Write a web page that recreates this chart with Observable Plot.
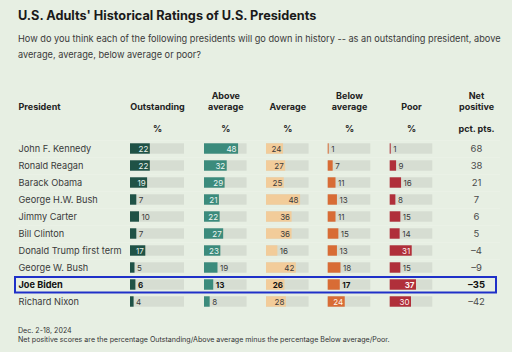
<!DOCTYPE html>
<html><head><meta charset="utf-8">
<script src="https://cdn.jsdelivr.net/npm/d3@7"></script>
<script src="https://cdn.jsdelivr.net/npm/@observablehq/plot@0.6"></script>
<style>
html,body{margin:0;padding:0;background:#e7efe3;}
body{width:512px;height:352px;position:relative;overflow:hidden;font-family:Inter,"Liberation Sans",sans-serif;color:#222;}
#title{position:absolute;left:18px;top:7.7px;font-size:12.7px;font-weight:700;line-height:16px;white-space:nowrap;color:#1a1a1a;}
#sub{position:absolute;left:18px;top:31.4px;font-size:9.2px;line-height:15.3px;color:#3a3a3a;white-space:nowrap;}
#chart{position:absolute;left:0;top:80px;}
#cap{position:absolute;left:18px;top:325.5px;font-size:7.1px;line-height:9.3px;color:#333;white-space:nowrap;}
</style></head><body>
<div id="title">U.S. Adults' Historical Ratings of U.S. Presidents</div>
<div id="sub">How do you think each of the following presidents will go down in history -- as an outstanding president, above<br>average, average, below average or poor?</div>
<div id="chart"></div>
<div id="cap">Dec. 2-18, 2024<br>Net positive scores are the percentage Outstanding/Above average minus the percentage Below average/Poor.</div>
<script>
const presidents = ["John F. Kennedy","Ronald Reagan","Barack Obama","George H.W. Bush","Jimmy Carter","Bill Clinton","Donald Trump first term","George W. Bush","Joe Biden","Richard Nixon"];
const outstanding  = [22,22,19,7,10,7,17,5,6,4];
const aboveAverage = [48,32,29,21,22,27,23,19,13,8];
const average      = [24,27,25,48,36,36,16,42,26,28];
const belowAverage = [1,7,11,13,11,15,13,18,17,24];
const poor         = [1,9,16,8,15,14,31,15,37,30];
const netPositive  = [68,38,21,7,6,5,-4,-9,-35,-42];
const highlighted = "Joe Biden";

const columns = [
  {line1:"",      line2:"Outstanding", unit:"%", values:outstanding,  start:130,   k:0.9,  color:"#1f5246", inText:"#e9f2ec"},
  {line1:"Above", line2:"average",     unit:"%", values:aboveAverage, start:204,   k:0.71, color:"#3b8b7c", inText:"#eef6f2"},
  {line1:"",      line2:"Average",     unit:"%", values:average,      start:266,   k:0.71, color:"#f2cc9a", inText:"#3a3a3a"},
  {line1:"Below", line2:"average",     unit:"%", values:belowAverage, start:327.7, k:0.71, color:"#d86c35", inText:"#fff5ee"},
  {line1:"",      line2:"Poor",        unit:"%", values:poor,         start:389.7, k:0.71, color:"#b02f3a", inText:"#fff3f3"}
];
const trackMax = 60;
const netX = 476;
const fmt = v => v < 0 ? "\u2013" + Math.abs(v) : String(v);

const marks = [];
// row separators
marks.push(Plot.barX(presidents, {y: d => d, x1: 18, x2: 500, fill: "#f6faf4", insetBottom: 16.8}));
for (const c of columns) {
  const rows = presidents.map((name, i) => ({name, v: c.values[i], w: Math.max(c.values[i] * c.k, 1)}));
  marks.push(Plot.barX(rows, {y: "name", x1: () => c.start, x2: () => c.start + trackMax * c.k, fill: "#d6ddd2", insetTop: 3.3, insetBottom: 3.3}));
  marks.push(Plot.barX(rows, {y: "name", x1: () => c.start, x2: d => c.start + d.w, fill: c.color, insetTop: 3.3, insetBottom: 3.3}));
  for (const bold of [false, true]) {
    const sel = rows.filter(d => (d.name === highlighted) === bold);
    marks.push(Plot.text(sel.filter(d => d.w >= 14), {y: "name", x: d => c.start + d.w, text: d => String(d.v), textAnchor: "end", dx: -2, fill: bold && c.inText === "#3a3a3a" ? "#111" : c.inText, fontSize: 8, fontWeight: bold ? 700 : 400}));
    marks.push(Plot.text(sel.filter(d => d.w < 14), {y: "name", x: d => c.start + d.w, text: d => String(d.v), textAnchor: "start", dx: 2, fill: bold ? "#111" : "#3a3a3a", fontSize: 8, fontWeight: bold ? 700 : 400}));
  }
  // headers
  const cx = c.start + trackMax * c.k / 2;
  marks.push(Plot.text([c.line1], {x: () => cx, frameAnchor: "top", dy: 12.3, text: d => d, fontSize: 9, fontWeight: 700, fill: "#222"}));
  marks.push(Plot.text([c.line2], {x: () => cx, frameAnchor: "top", dy: 23.4, text: d => d, fontSize: 9, fontWeight: 700, fill: "#222"}));
  marks.push(Plot.text([c.unit], {x: () => cx, frameAnchor: "top", dy: 45, text: d => d, fontSize: 9, fontWeight: 700, fill: "#222"}));
}
// net header
marks.push(Plot.text(["Net"], {x: () => netX, frameAnchor: "top", dy: 12.3, text: d => d, fontSize: 9, fontWeight: 700, fill: "#222"}));
marks.push(Plot.text(["positive"], {x: () => netX, frameAnchor: "top", dy: 23.4, text: d => d, fontSize: 9, fontWeight: 700, fill: "#222"}));
marks.push(Plot.text(["pct. pts."], {x: () => netX, frameAnchor: "top", dy: 45, text: d => d, fontSize: 9, fontWeight: 700, fill: "#222"}));
marks.push(Plot.text(["President"], {x: () => 18, frameAnchor: "top", dy: 23.4, text: d => d, textAnchor: "start", fontSize: 9, fontWeight: 700, fill: "#222"}));

const net = presidents.map((name, i) => ({name, v: netPositive[i]}));
for (const bold of [false, true]) {
  const sel = net.filter(d => (d.name === highlighted) === bold);
  marks.push(Plot.text(sel, {y: "name", x: () => netX, text: d => fmt(d.v), fontSize: 9.5, fontWeight: bold ? 700 : 400, fill: bold ? "#111" : "#4a4a4a"}));
  marks.push(Plot.text(sel.map(d => d.name), {y: d => d, x: () => 18, text: d => d, textAnchor: "start", fontSize: 9.2, fontWeight: bold ? 700 : 400, fill: bold ? "#111" : "#3a3a3a"}));
}
// highlight box
marks.push(Plot.barX([highlighted], {y: d => d, x1: 15, x2: 496, fill: "none", stroke: "#1f30c8", strokeWidth: 2, insetTop: 1, insetBottom: 0.5}));

const chart = Plot.plot({
  width: 512, height: 240,
  marginTop: 0, marginBottom: 0, marginLeft: 0, marginRight: 0,
  x: {domain: [0, 512], range: [0, 512], axis: null},
  y: {type: "band", domain: presidents, range: [56, 233.8], padding: 0, axis: null},
  style: {background: "transparent", fontFamily: "Inter, 'Liberation Sans', sans-serif", overflow: "visible"},
  marks
});
document.getElementById("chart").appendChild(chart);
</script>
</body></html>
